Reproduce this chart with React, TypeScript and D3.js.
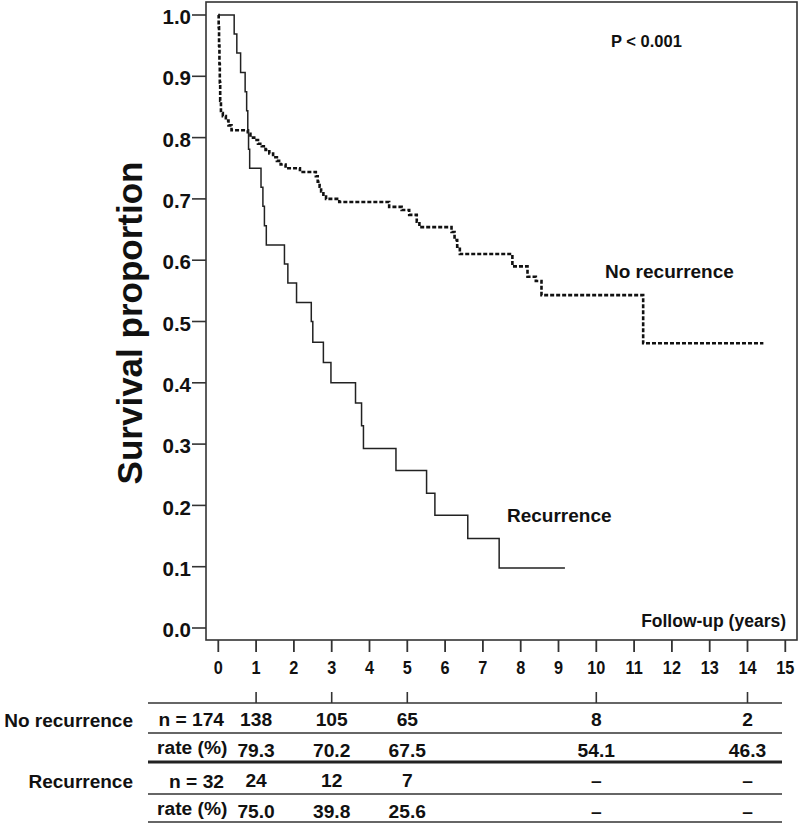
import React from "react";
import * as d3 from "d3";

// ---------- data ----------
const recTimes = [0, 0.42, 0.49, 0.59, 0.71, 0.75, 0.78, 0.8, 0.83, 1.13, 1.18, 1.22, 1.27, 1.75, 1.84, 2.07, 2.46, 2.5, 2.78, 2.98, 3.63, 3.79, 3.84, 4.7, 5.51, 5.73, 6.6, 7.43];
const recSurv = [1.0, 0.969, 0.938, 0.906, 0.875, 0.844, 0.8125, 0.781, 0.75, 0.719, 0.688, 0.656, 0.625, 0.594, 0.563, 0.531, 0.5, 0.466, 0.433, 0.4, 0.367, 0.33, 0.293, 0.257, 0.22, 0.184, 0.146, 0.098];
const recEnd = 9.17;

const noRecTimes = [0, 0.01, 0.02, 0.03, 0.04, 0.05, 0.07, 0.12, 0.2, 0.27, 0.35, 0.78, 0.85, 0.95, 1.05, 1.15, 1.25, 1.35, 1.45, 1.55, 1.65, 1.78, 2.16, 2.58, 2.63, 2.68, 2.72, 2.78, 2.85, 3.2, 4.52, 4.85, 5.05, 5.25, 5.32, 6.17, 6.25, 6.32, 6.39, 7.78, 8.18, 8.4, 8.55, 11.24];
const noRecSurv = [1.0, 0.98, 0.95, 0.92, 0.89, 0.86, 0.84, 0.835, 0.828, 0.82, 0.812, 0.806, 0.8, 0.796, 0.79, 0.786, 0.78, 0.774, 0.768, 0.762, 0.756, 0.75, 0.744, 0.737, 0.728, 0.72, 0.712, 0.704, 0.7, 0.695, 0.687, 0.682, 0.674, 0.663, 0.654, 0.646, 0.633, 0.622, 0.61, 0.59, 0.573, 0.566, 0.543, 0.4644];
const noRecEnd = 14.42;

const yTicks = [0, 0.1, 0.2, 0.3, 0.4, 0.5, 0.6, 0.7, 0.8, 0.9, 1.0];
const xTicks = [0, 1, 2, 3, 4, 5, 6, 7, 8, 9, 10, 11, 12, 13, 14, 15];

const tableYears = [1, 3, 5, 10, 14];
const noRecAtRisk = ["138", "105", "65", "8", "2"];
const noRecRate = ["79.3", "70.2", "67.5", "54.1", "46.3"];
const recAtRisk = ["24", "12", "7", "–", "–"];
const recRate = ["75.0", "39.8", "25.6", "–", "–"];

const FONT = "'Liberation Sans', Arial, Helvetica, sans-serif";

export default function App() {
  const x = d3.scaleLinear().domain([0, 15]).range([218.3, 785.3]);
  const y = d3.scaleLinear().domain([0, 1]).range([628, 15]);

  const line = d3
    .line<[number, number]>()
    .x((d) => x(d[0]))
    .y((d) => y(d[1]))
    .curve(d3.curveStepAfter);

  const recPts: [number, number][] = recTimes.map((t, i) => [t, recSurv[i]]);
  recPts.push([recEnd, recSurv[recSurv.length - 1]]);
  const noRecPts: [number, number][] = noRecTimes.map((t, i) => [t, noRecSurv[i]]);
  noRecPts.push([noRecEnd, noRecSurv[noRecSurv.length - 1]]);

  const boxL = 206, boxT = 2, boxR = 797, boxB = 640;
  const tblL = 148, tblR = 782;
  const rowLines = [703, 733, 794, 822];
  const thickLine = 762;

  const textStyle = { fontFamily: FONT, fontWeight: 700, fill: "#111" } as const;
  const fs = 19.2;

  return (
    <svg
      width={800}
      height={824}
      style={{ position: "absolute", left: 0, top: 0, background: "#fff" }}
    >
      <rect x={0} y={0} width={800} height={824} fill="#fff" />
      {/* plot box */}
      <rect x={boxL} y={boxT} width={boxR - boxL} height={boxB - boxT} fill="none" stroke="#333" strokeWidth={1.6} />

      {/* y axis */}
      {yTicks.map((v) => (
        <g key={"y" + v}>
          <line x1={192} x2={boxL} y1={y(v)} y2={y(v)} stroke="#333" strokeWidth={1.6} />
          <text x={191} y={y(v) + 2} dy="0.35em" textAnchor="end" fontSize={20.5} style={textStyle}>
            {v.toFixed(1)}
          </text>
        </g>
      ))}
      <text
        transform={`translate(142,323) rotate(-90)`}
        textAnchor="middle"
        fontSize={35}
        style={textStyle}
      >
        Survival proportion
      </text>

      {/* x axis */}
      {xTicks.map((t) => (
        <g key={"x" + t}>
          <line x1={x(t)} x2={x(t)} y1={boxB} y2={boxB + 12} stroke="#333" strokeWidth={1.8} />
          <text
            transform={`translate(${x(t)},674) scale(0.88,1)`}
            textAnchor="middle"
            fontSize={18.5}
            style={textStyle}
          >
            {t}
          </text>
        </g>
      ))}
      <text x={786} y={627} textAnchor="end" fontSize={17.5} style={textStyle}>
        Follow-up (years)
      </text>

      {/* curves */}
      <path d={line(noRecPts) || ""} fill="none" stroke="#111" strokeWidth={2.6} strokeDasharray="4,2" />
      <path d={line(recPts) || ""} fill="none" stroke="#222" strokeWidth={1.5} />

      {/* annotations */}
      <text x={611} y={47} fontSize={16.5} style={textStyle}>P &lt; 0.001</text>
      <text x={605} y={278} fontSize={19} style={textStyle}>No recurrence</text>
      <text x={507} y={522} fontSize={19} style={textStyle}>Recurrence</text>

      {/* risk table */}
      {tableYears.map((t) => (
        <line key={"tt" + t} x1={x(t)} x2={x(t)} y1={692} y2={703} stroke="#333" strokeWidth={1.6} />
      ))}
      {rowLines.map((ly) => (
        <line key={"rl" + ly} x1={tblL} x2={tblR} y1={ly} y2={ly} stroke="#333" strokeWidth={1.5} />
      ))}
      <line x1={tblL} x2={tblR} y1={thickLine} y2={thickLine} stroke="#222" strokeWidth={3} />

      <text x={133} y={720} dy="0.35em" textAnchor="end" fontSize={19} style={textStyle}>No recurrence</text>
      <text x={133} y={781} dy="0.35em" textAnchor="end" fontSize={19} style={textStyle}>Recurrence</text>

      <text x={224} y={719} dy="0.35em" textAnchor="end" fontSize={fs} style={textStyle}>n = 174</text>
      <text x={157} y={747} dy="0.35em" textAnchor="start" fontSize={fs} style={textStyle}>rate (%)</text>
      <text x={224} y={781} dy="0.35em" textAnchor="end" fontSize={fs} style={textStyle}>n = 32</text>
      <text x={157} y={808} dy="0.35em" textAnchor="start" fontSize={fs} style={textStyle}>rate (%)</text>

      {tableYears.map((t, i) => (
        <g key={"tv" + t}>
          <text x={x(t)} y={719} dy="0.35em" textAnchor="middle" fontSize={fs} style={textStyle}>{noRecAtRisk[i]}</text>
          <text x={x(t)} y={750} dy="0.35em" textAnchor="middle" fontSize={fs} style={textStyle}>{noRecRate[i]}</text>
          <text x={x(t)} y={780} dy="0.35em" textAnchor="middle" fontSize={fs} style={textStyle}>{recAtRisk[i]}</text>
          <text x={x(t)} y={811} dy="0.35em" textAnchor="middle" fontSize={fs} style={textStyle}>{recRate[i]}</text>
        </g>
      ))}
    </svg>
  );
}
